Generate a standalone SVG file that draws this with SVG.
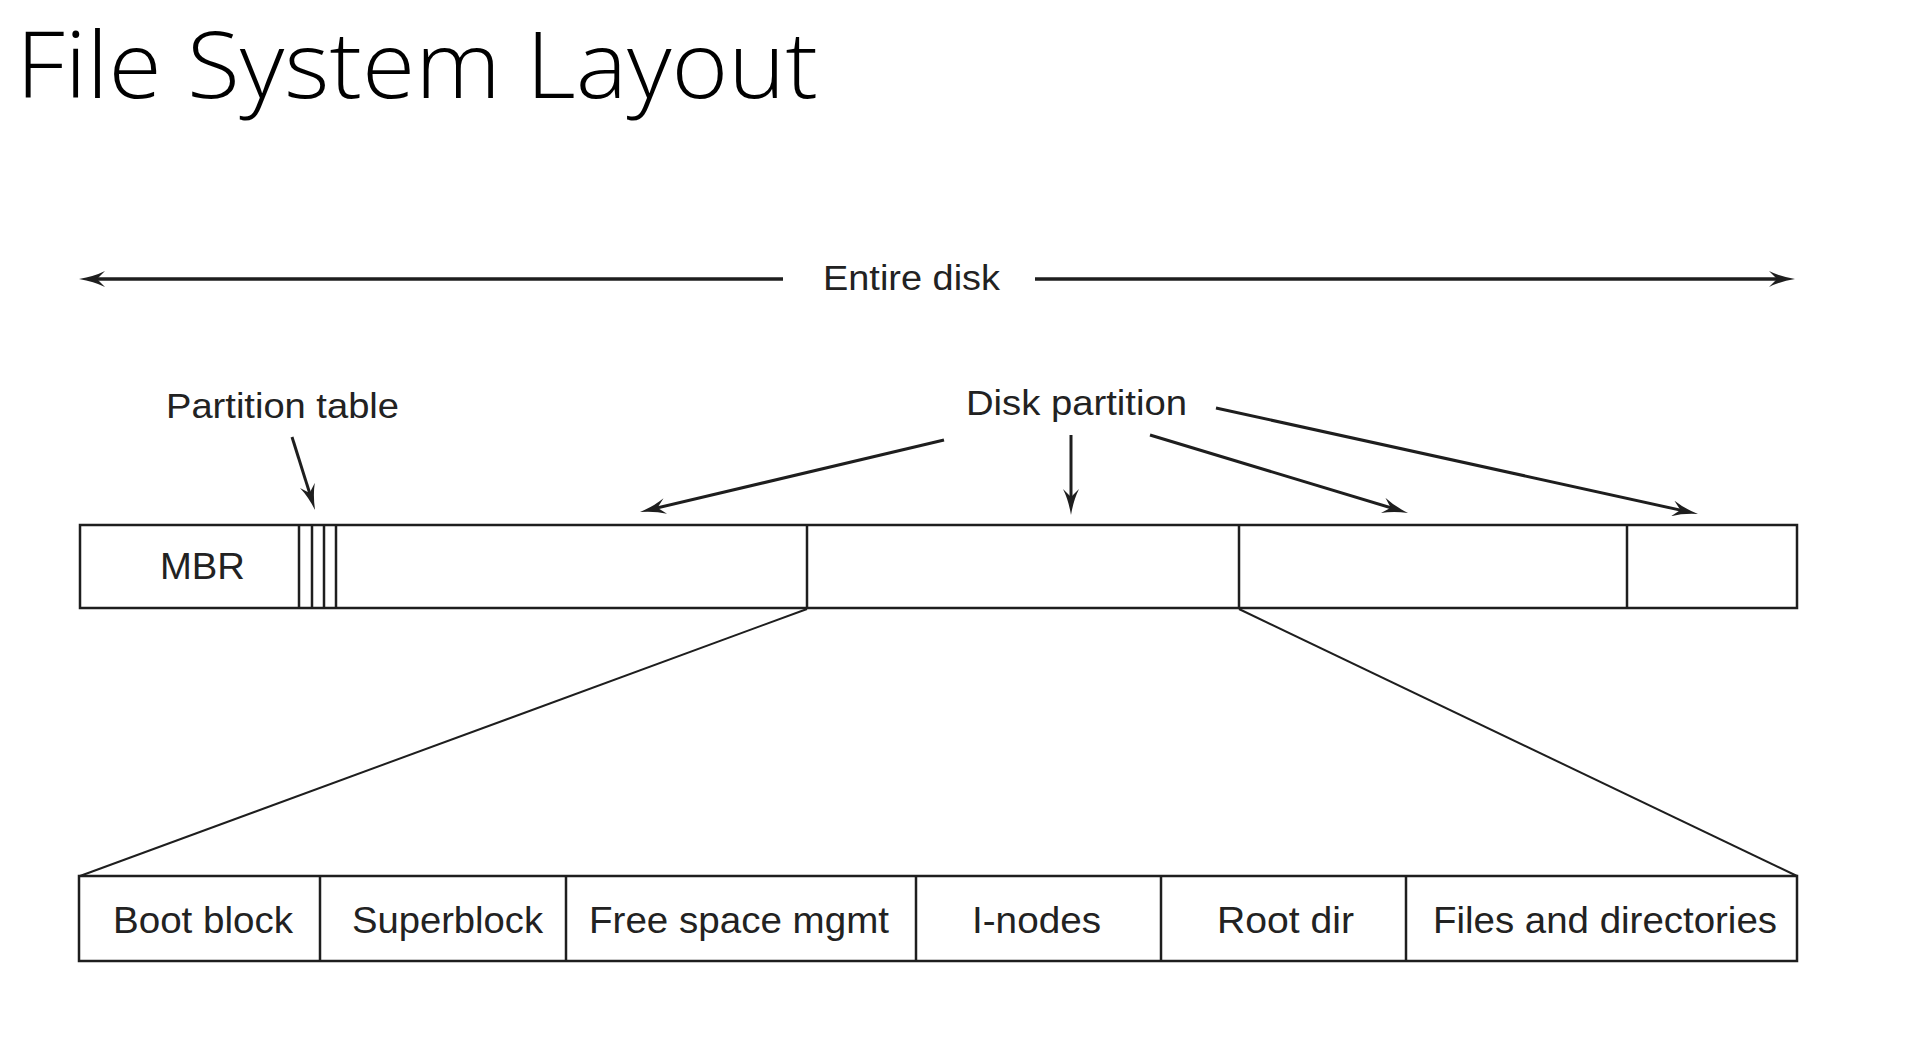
<svg xmlns="http://www.w3.org/2000/svg" width="1921" height="1053" viewBox="0 0 1921 1053">
  <style>
    .title { font-family: "Open Sans", "Liberation Sans", sans-serif; font-weight: 300; font-size: 92px; fill: #000; }
    .lbl { font-family: "Liberation Sans", Arial, sans-serif; font-size: 35px; fill: #222; }
    .cell { font-family: "Liberation Sans", Arial, sans-serif; font-size: 37px; fill: #222; }
    .box { fill: #fff; stroke: #1e1e1e; stroke-width: 2.5; }
    .div { stroke: #1e1e1e; stroke-width: 2.5; fill: none; }
    .arr { stroke: #1e1e1e; stroke-width: 3; fill: none; marker-end: url(#ah); }
    .arrThick { stroke: #1e1e1e; stroke-width: 3.6; fill: none; marker-end: url(#ah); }
    .fan { stroke: #1e1e1e; stroke-width: 2; fill: none; }
  </style>
  <defs>
    <marker id="ah" viewBox="0 0 26 16" refX="14" refY="8" markerWidth="26" markerHeight="16" markerUnits="userSpaceOnUse" orient="auto">
      <path d="M0,0 Q11,5.5 26,8 Q11,10.5 0,16 L8,8 Z" fill="#1e1e1e"/>
    </marker>
  </defs>
  <rect width="1921" height="1053" fill="#fff"/>

  <g id="title">
    <text class="title" x="16" y="98" textLength="802" lengthAdjust="spacingAndGlyphs">File System Layout</text>
  </g>

  <g id="entire-disk-label">
    <text class="lbl" x="823" y="290" textLength="177" lengthAdjust="spacingAndGlyphs">Entire disk</text>
  </g>
  <g id="partition-table-label">
    <text class="lbl" x="166" y="418" textLength="233" lengthAdjust="spacingAndGlyphs">Partition table</text>
  </g>
  <g id="disk-partition-label">
    <text class="lbl" x="966" y="415" textLength="221" lengthAdjust="spacingAndGlyphs">Disk partition</text>
  </g>

  <g id="disk-bar">
    <rect class="box" x="80" y="525" width="1717" height="83"/>
    <line class="div" x1="299" y1="525" x2="299" y2="608"/>
    <line class="div" x1="312" y1="525" x2="312" y2="608"/>
    <line class="div" x1="324" y1="525" x2="324" y2="608"/>
    <line class="div" x1="336" y1="525" x2="336" y2="608"/>
    <line class="div" x1="807" y1="525" x2="807" y2="608"/>
    <line class="div" x1="1239" y1="525" x2="1239" y2="608"/>
    <line class="div" x1="1627" y1="525" x2="1627" y2="608"/>
    <text class="cell" x="160" y="579" textLength="85" lengthAdjust="spacingAndGlyphs">MBR</text>
  </g>

  <g id="partition-bar">
    <rect class="box" x="79" y="876" width="1718" height="85"/>
    <line class="div" x1="320" y1="876" x2="320" y2="961"/>
    <line class="div" x1="566" y1="876" x2="566" y2="961"/>
    <line class="div" x1="916" y1="876" x2="916" y2="961"/>
    <line class="div" x1="1161" y1="876" x2="1161" y2="961"/>
    <line class="div" x1="1406" y1="876" x2="1406" y2="961"/>
    <text class="cell" x="113" y="933" textLength="180" lengthAdjust="spacingAndGlyphs">Boot block</text>
    <text class="cell" x="352" y="933" textLength="191" lengthAdjust="spacingAndGlyphs">Superblock</text>
    <text class="cell" x="589" y="933" textLength="300" lengthAdjust="spacingAndGlyphs">Free space mgmt</text>
    <text class="cell" x="972" y="933" textLength="129" lengthAdjust="spacingAndGlyphs">I-nodes</text>
    <text class="cell" x="1217" y="933" textLength="137" lengthAdjust="spacingAndGlyphs">Root dir</text>
    <text class="cell" x="1433" y="933" textLength="344" lengthAdjust="spacingAndGlyphs">Files and directories</text>
  </g>

  <g id="connectors">
    <line class="arrThick" x1="783" y1="279" x2="91" y2="279"/>
    <line class="arrThick" x1="1035" y1="279" x2="1783" y2="279"/>
    <line class="arr" x1="292" y1="437" x2="311.4" y2="498.6"/>
    <line class="arr" x1="944" y1="440" x2="651.7" y2="509.2"/>
    <line class="arr" x1="1071" y1="435" x2="1071" y2="503"/>
    <line class="arr" x1="1150" y1="435" x2="1396.5" y2="509.5"/>
    <line class="arr" x1="1216" y1="408" x2="1686.3" y2="511.4"/>
    <line class="fan" x1="807" y1="609" x2="80" y2="876"/>
    <line class="fan" x1="1239" y1="609" x2="1797" y2="876"/>
  </g>
</svg>
